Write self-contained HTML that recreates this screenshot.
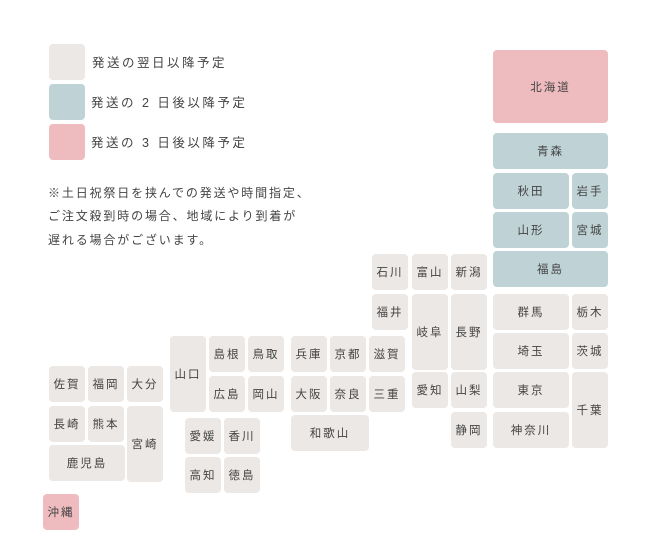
<!DOCTYPE html>
<html><head><meta charset="utf-8"><style>
body{margin:0;width:650px;height:550px;background:#fff;position:relative;overflow:hidden;font-family:"Liberation Sans","Noto Sans CJK JP",sans-serif;color:#444}
.b{position:absolute;border-radius:4px;background:#ece8e5;display:flex;align-items:center;justify-content:center;font-size:11.5px;letter-spacing:2px;color:#444}
.g{background:#bfd3d7}.p{background:#eebbbe}
.t{position:absolute;font-size:12.5px;letter-spacing:2.5px;white-space:nowrap;line-height:16px}
.n{position:absolute;font-size:12px;letter-spacing:1.85px;white-space:nowrap;line-height:16px;left:48px}
</style></head><body>
<div class="b" style="left:49px;top:44px;width:36px;height:36px"></div>
<div class="b g" style="left:49px;top:84px;width:36px;height:36px"></div>
<div class="b p" style="left:49px;top:124px;width:36px;height:36px"></div>
<div class="t" style="left:92px;top:55px">発送の翌日以降予定</div>
<div class="t" style="left:91px;top:95px">発送の 2 日後以降予定</div>
<div class="t" style="left:91px;top:135px">発送の 3 日後以降予定</div>
<div class="n" style="top:185px">※土日祝祭日を挟んでの発送や時間指定、</div>
<div class="n" style="top:208px">ご注文殺到時の場合、地域により到着が</div>
<div class="n" style="top:232px">遅れる場合がございます。</div>

<div class="b p" style="left:493px;top:50px;width:115px;height:73px">北海道</div>
<div class="b g" style="left:493px;top:133px;width:115px;height:36px">青森</div>
<div class="b g" style="left:493px;top:173px;width:76px;height:36px">秋田</div>
<div class="b g" style="left:572px;top:173px;width:36px;height:36px">岩手</div>
<div class="b g" style="left:493px;top:212px;width:76px;height:36px">山形</div>
<div class="b g" style="left:572px;top:212px;width:36px;height:36px">宮城</div>
<div class="b g" style="left:493px;top:251px;width:115px;height:36px">福島</div>

<div class="b" style="left:372px;top:254px;width:36px;height:36px">石川</div>
<div class="b" style="left:412px;top:254px;width:36px;height:36px">富山</div>
<div class="b" style="left:451px;top:254px;width:36px;height:36px">新潟</div>
<div class="b" style="left:372px;top:294px;width:36px;height:36px">福井</div>
<div class="b" style="left:412px;top:294px;width:36px;height:76px">岐阜</div>
<div class="b" style="left:451px;top:294px;width:36px;height:76px">長野</div>
<div class="b" style="left:493px;top:294px;width:76px;height:36px">群馬</div>
<div class="b" style="left:572px;top:294px;width:36px;height:36px">栃木</div>
<div class="b" style="left:369px;top:336px;width:36px;height:36px">滋賀</div>
<div class="b" style="left:493px;top:333px;width:76px;height:36px">埼玉</div>
<div class="b" style="left:572px;top:333px;width:36px;height:36px">茨城</div>
<div class="b" style="left:369px;top:376px;width:36px;height:36px">三重</div>
<div class="b" style="left:412px;top:372px;width:36px;height:36px">愛知</div>
<div class="b" style="left:451px;top:372px;width:36px;height:36px">山梨</div>
<div class="b" style="left:493px;top:372px;width:76px;height:36px">東京</div>
<div class="b" style="left:572px;top:372px;width:36px;height:76px">千葉</div>
<div class="b" style="left:451px;top:412px;width:36px;height:36px">静岡</div>
<div class="b" style="left:493px;top:412px;width:76px;height:36px">神奈川</div>

<div class="b" style="left:170px;top:336px;width:36px;height:76px">山口</div>
<div class="b" style="left:209px;top:336px;width:36px;height:36px">島根</div>
<div class="b" style="left:248px;top:336px;width:36px;height:36px">鳥取</div>
<div class="b" style="left:291px;top:336px;width:36px;height:36px">兵庫</div>
<div class="b" style="left:330px;top:336px;width:36px;height:36px">京都</div>
<div class="b" style="left:209px;top:376px;width:36px;height:36px">広島</div>
<div class="b" style="left:248px;top:376px;width:36px;height:36px">岡山</div>
<div class="b" style="left:291px;top:376px;width:36px;height:36px">大阪</div>
<div class="b" style="left:330px;top:376px;width:36px;height:36px">奈良</div>
<div class="b" style="left:291px;top:415px;width:78px;height:36px">和歌山</div>
<div class="b" style="left:185px;top:418px;width:36px;height:36px">愛媛</div>
<div class="b" style="left:224px;top:418px;width:36px;height:36px">香川</div>
<div class="b" style="left:185px;top:457px;width:36px;height:36px">高知</div>
<div class="b" style="left:224px;top:457px;width:36px;height:36px">徳島</div>

<div class="b" style="left:49px;top:366px;width:36px;height:36px">佐賀</div>
<div class="b" style="left:88px;top:366px;width:36px;height:36px">福岡</div>
<div class="b" style="left:127px;top:366px;width:36px;height:36px">大分</div>
<div class="b" style="left:49px;top:406px;width:36px;height:36px">長崎</div>
<div class="b" style="left:88px;top:406px;width:36px;height:36px">熊本</div>
<div class="b" style="left:127px;top:406px;width:36px;height:76px">宮崎</div>
<div class="b" style="left:49px;top:445px;width:76px;height:36px">鹿児島</div>
<div class="b p" style="left:43px;top:494px;width:36px;height:36px">沖縄</div>
</body></html>
